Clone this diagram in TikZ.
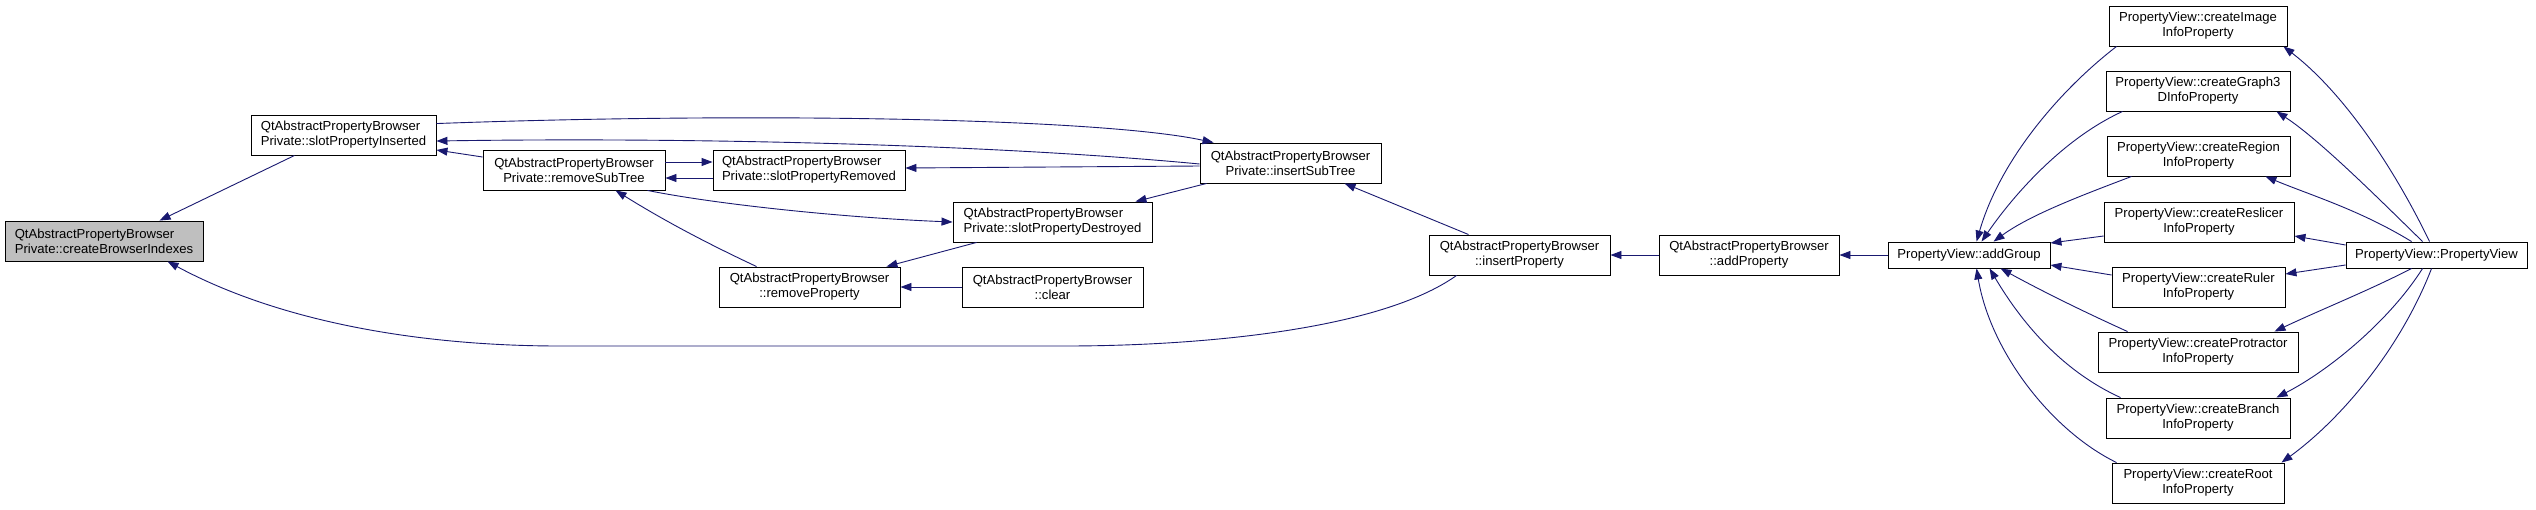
\documentclass[tikz,border=0pt]{standalone}
\usepackage{fontspec}
\setmainfont{Liberation Sans}
\usetikzlibrary{arrows.meta,calc}
\definecolor{edgeblue}{HTML}{191970}
\definecolor{hlgray}{HTML}{BFBFBF}
\tikzset{
  fn/.style={draw=black, line width=0.9pt, fill=white, inner sep=0pt, minimum height=40pt, align=center,
     font=\fontsize{13.1}{15}\selectfont},
  fnl/.style={fn, align=left},
  oneline/.style={minimum height=26pt},
  call/.style={draw=edgeblue, line width=0.9pt, -{Triangle[length=11pt,width=8pt]}, edgeblue},
}
\begin{document}
\begin{tikzpicture}[x=1pt,y=-1pt]
\useasboundingbox[fill=white] (0,0) rectangle (2536,509);
% nodes
\node[fnl, fill=hlgray, minimum width=198pt] (cbi) at (104,241) {QtAbstractPropertyBrowser\\Private::createBrowserIndexes};
\node[fnl, minimum width=185pt] (spi) at (343.5,135) {QtAbstractPropertyBrowser\\Private::slotPropertyInserted};
\node[fn, minimum width=182pt] (rst) at (574,170) {QtAbstractPropertyBrowser\\Private::removeSubTree};
\node[fnl, minimum width=192pt] (spr) at (809,170) {QtAbstractPropertyBrowser\\Private::slotPropertyRemoved};
\node[fn, minimum width=181pt] (rp) at (809.5,287) {QtAbstractPropertyBrowser\\::removeProperty};
\node[fnl, minimum width=199pt] (spd) at (1052.5,222) {QtAbstractPropertyBrowser\\Private::slotPropertyDestroyed};
\node[fn, minimum width=181pt] (clr) at (1052.5,287) {QtAbstractPropertyBrowser\\::clear};
\node[fn, minimum width=181pt] (ist) at (1290.5,163) {QtAbstractPropertyBrowser\\Private::insertSubTree};
\node[fn, minimum width=181pt] (ip) at (1519.5,255) {QtAbstractPropertyBrowser\\::insertProperty};
\node[fn, minimum width=180pt] (ap) at (1749,255) {QtAbstractPropertyBrowser\\::addProperty};
\node[fn, oneline, minimum width=162pt] (ag) at (1969,255) {PropertyView::addGroup};
\node[fn, minimum width=178pt] (img) at (2198,26) {PropertyView::createImage\\InfoProperty};
\node[fn, minimum width=184pt] (g3d) at (2198,91) {PropertyView::createGraph3\\DInfoProperty};
\node[fn, minimum width=183pt] (reg) at (2198.5,156) {PropertyView::createRegion\\InfoProperty};
\node[fn, minimum width=190pt] (res) at (2199,222) {PropertyView::createReslicer\\InfoProperty};
\node[fn, oneline, minimum width=181pt] (pv) at (2436.5,255) {PropertyView::PropertyView};
\node[fn, minimum width=173pt] (rul) at (2198.5,287) {PropertyView::createRuler\\InfoProperty};
\node[fn, minimum width=200pt] (pro) at (2198,352) {PropertyView::createProtractor\\InfoProperty};
\node[fn, minimum width=184pt] (br) at (2198,418) {PropertyView::createBranch\\InfoProperty};
\node[fn, minimum width=172pt] (root) at (2198,483) {PropertyView::createRoot\\InfoProperty};
% edges
\draw[call] ($(spi.south west)+(44,0)$) -- ($(cbi.north west)+(155,0)$);
\draw[call] ($(ip.south west)+(28,0)$) .. controls (1380,330) and (1200,346) .. (1065,346) -- (560,346) .. controls (420,346) and (280,322) .. ($(cbi.south west)+(163,0)$);
\draw[call] ($(ist.west)+(0,1)$) .. controls (1000,145) and (700,137) .. ($(spi.east)+(0,6)$);
\draw[call] ($(spi.north east)+(0,9)$) .. controls (750,112) and (1100,118) .. ($(ist.north west)+(14,0)$);
\draw[call] ($(rst.west)+(0,-13)$) -- ($(spi.east)+(0,15)$);
\draw[call] ($(rst.east)+(0,-8)$) -- ($(spr.west)+(0,-8)$);
\draw[call] ($(spr.west)+(0,8)$) -- ($(rst.east)+(0,8)$);
\draw[call] ($(ist.west)+(0,3)$) -- ($(spr.east)+(0,-2)$);
\draw[call] ($(rst.south west)+(165,0)$) .. controls (720,205) and (850,218) .. (spd.west);
\draw[call] ($(rp.north west)+(38,0)$) .. controls (700,240) and (660,218) .. ($(rst.south west)+(133,0)$);
\draw[call] ($(spd.south west)+(24,0)$) -- ($(rp.north east)+(-14,0)$);
\draw[call] ($(ist.south west)+(7,0)$) -- ($(spd.north east)+(-17,0)$);
\draw[call] (clr.west) -- (rp.east);
\draw[call] ($(ip.north west)+(40,0)$) -- ($(ist.south west)+(145,0)$);
\draw[call] (ap.west) -- (ip.east);
\draw[call] (ag.west) -- (ap.east);
% into addGroup
\draw[call] ($(img.south west)+(8,0)$) .. controls (2060,90) and (2000,160) .. ($(ag.north west)+(89,0)$);
\draw[call] ($(g3d.south west)+(17,0)$) .. controls (2060,140) and (2010,200) .. ($(ag.north west)+(94,0)$);
\draw[call] ($(reg.south west)+(25,0)$) .. controls (2080,196) and (2030,215) .. ($(ag.north west)+(106,0)$);
\draw[call] ($(res.west)+(0,14)$) -- ($(ag.east)+(0,-12)$);
\draw[call] ($(rul.west)+(0,-12)$) -- ($(ag.east)+(0,10)$);
\draw[call] ($(pro.north west)+(30,0)$) .. controls (2080,310) and (2040,290) .. ($(ag.south west)+(113,0)$);
\draw[call] ($(br.north west)+(15,0)$) .. controls (2060,370) and (2020,320) .. ($(ag.south west)+(102,0)$);
\draw[call] ($(root.north west)+(5,0)$) .. controls (2050,430) and (1990,350) .. ($(ag.south west)+(89,0)$);
% from PropertyView
\draw[call] ($(pv.north west)+(84,0)$) .. controls (2390,160) and (2340,90) .. ($(img.south east)+(-4,0)$);
\draw[call] ($(pv.north west)+(77,0)$) .. controls (2380,200) and (2320,140) .. ($(g3d.south east)+(-14,0)$);
\draw[call] ($(pv.north west)+(66,0)$) .. controls (2360,210) and (2310,195) .. ($(reg.south east)+(-25,0)$);
\draw[call] ($(pv.west)+(0,-10)$) -- ($(res.east)+(0,14)$);
\draw[call] ($(pv.west)+(0,10)$) -- ($(rul.east)+(0,-13)$);
\draw[call] ($(pv.south west)+(66,0)$) .. controls (2370,290) and (2320,310) .. ($(pro.north east)+(-24,0)$);
\draw[call] ($(pv.south west)+(77,0)$) .. controls (2390,320) and (2330,370) .. ($(br.north east)+(-14,0)$);
\draw[call] ($(pv.south west)+(86,0)$) .. controls (2400,350) and (2340,420) .. ($(root.north east)+(-3,0)$);
\end{tikzpicture}
\end{document}
